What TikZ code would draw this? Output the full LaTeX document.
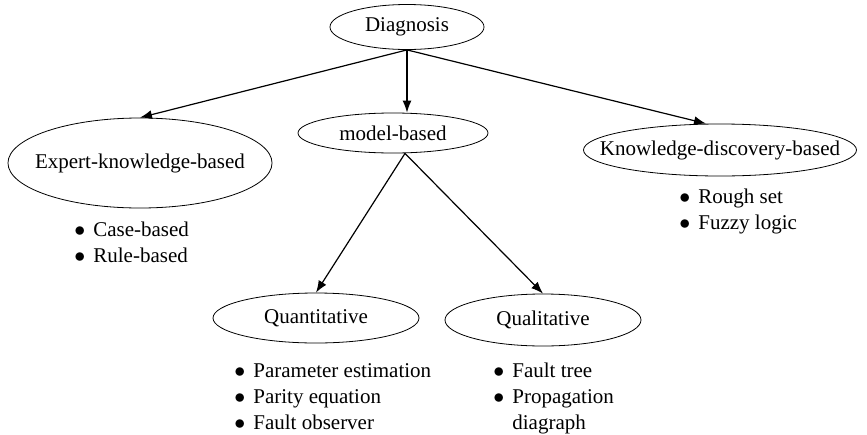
\documentclass[tikz,border=0pt]{standalone}
\usepackage{fontspec}
\setmainfont{Liberation Serif}
\usetikzlibrary{positioning}
\usetikzlibrary{shapes.geometric}
\usetikzlibrary{arrows.meta}

\tikzset{
	branch/.style = {draw, ellipse, inner sep = 0pt},
	link/.style = {black, semithick, -{Latex[length = 6pt, width = 4.5pt]}},
	items/.style = {anchor = north west, inner sep = 0pt, align = left}
}

\begin{document}
\begin{tikzpicture}[x = 0.5pt, y = -0.5pt, font = \fontsize{10.5}{13}\selectfont]
	\useasboundingbox (0, 0) rectangle (867, 434);
	% ellipses
	\node [branch, minimum width = 154pt * 0.5, minimum height = 45pt * 0.5] (diag) at (407, 27) {Diagnosis};
	\node [branch, inner xsep = -5.8pt, minimum width = 260pt * 0.5, minimum height = 90pt * 0.5] (expert) at (140, 163) {Expert-knowledge-based};
	\node [branch, minimum width = 190pt * 0.5, minimum height = 40pt * 0.5] (model) at (393, 133) {model-based};
	\node [branch, inner xsep = -11.8pt, minimum width = 270pt * 0.5, minimum height = 52pt * 0.5] (discovery) at (720, 150) {Knowledge-discovery-based};
	\node [branch, minimum width = 206pt * 0.5, minimum height = 50pt * 0.5] (quant) at (316, 318) {Quantitative};
	\node [branch, minimum width = 196pt * 0.5, minimum height = 52pt * 0.5] (qual) at (543, 320) {Qualitative};
	% arrows
	\draw [link] (diag.south) -- (expert.north);
	\draw [link] (diag.south) -- (model.north -| diag.south);
	\draw [link] (diag.south) -- ([xshift = -7pt] discovery.north);
	\coordinate (split) at ([xshift = 6pt] model.south);
	\draw [link] (split) -- (quant.north);
	\draw [link] (split) -- (qual.north);
	% lists
	\node [items] (expertlist) at (74, 218) {\begin{tabular}{@{}l@{\hspace{4pt}}l@{}}$\bullet$ & Case-based\\ $\bullet$ & Rule-based\end{tabular}};
	\node [items] (discoverylist) at (679, 185) {\begin{tabular}{@{}l@{\hspace{4pt}}l@{}}$\bullet$ & Rough set\\ $\bullet$ & Fuzzy logic\end{tabular}};
	\node [items] (quantlist) at (234, 359) {\begin{tabular}{@{}l@{\hspace{4pt}}l@{}}$\bullet$ & Parameter estimation\\ $\bullet$ & Parity equation\\ $\bullet$ & Fault observer\end{tabular}};
	\node [items] (quallist) at (493, 359) {\begin{tabular}{@{}l@{\hspace{4pt}}l@{}}$\bullet$ & Fault tree\\ $\bullet$ & Propagation\\ & diagraph\end{tabular}};
\end{tikzpicture}
\end{document}
